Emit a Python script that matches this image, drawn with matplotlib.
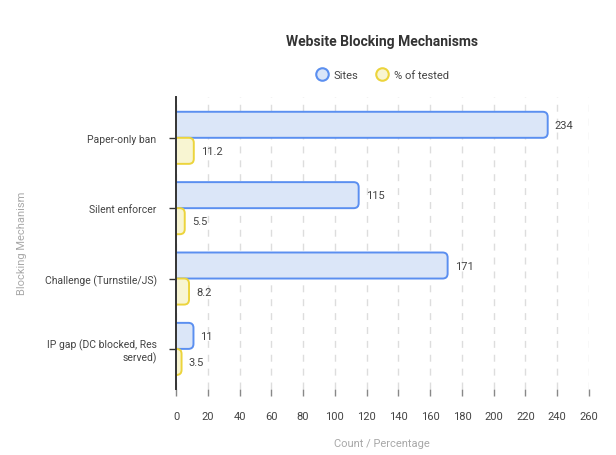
import numpy as np
import matplotlib
matplotlib.use("Agg")
import matplotlib.pyplot as plt
from matplotlib.patches import FancyBboxPatch
from matplotlib.lines import Line2D

plt.rcParams['font.family'] = ['Roboto', 'DejaVu Sans']

# data
mechanisms = ["Paper-only ban", "Silent enforcer", "Challenge (Turnstile/JS)",
              "IP gap (DC blocked, Res\nserved)"]
sites = [234, 115, 171, 11]
pct_tested = [11.2, 5.5, 8.2, 3.5]
series_names = ["Sites", "% of tested"]
xticks = list(range(0, 261, 20))

blue_edge = "#5b8ff0"
blue_fill = "#dbe6f8"
yel_edge = "#ecd43c"
yel_fill = "#f8f5d2"
txt = "#444444"
light = "#a8a8a8"

fig = plt.figure(figsize=(6.16, 4.56), dpi=100)
ax = fig.add_axes([176/616, 1 - 390/456, (589 - 176)/616, (390 - 98)/456])

y = np.arange(len(mechanisms))
h = 0.37
ax.set_xlim(0, 260)
ax.set_ylim(3.57, -0.58)

# rounding of the bar ends, in x data units; mutation_aspect keeps it round on screen
px_x = (589 - 176) / 260.0
px_y = (390 - 98) / (3.57 + 0.58)
r = 5.0 / px_x
aspect = px_x / px_y

def rounded_bars(vals, offset, fc, ec):
    bars = ax.barh(y + offset, vals, height=h, align='edge', alpha=0)
    for b, v in zip(bars, vals):
        x0, y0 = b.get_x(), b.get_y()
        p = FancyBboxPatch((x0 - r * 2, y0), b.get_width() + r * 2, b.get_height(),
                           boxstyle="round,pad=0,rounding_size=%f" % r,
                           mutation_aspect=aspect, fc=fc, ec=ec, lw=1.4, zorder=3)
        ax.add_patch(p)
        ax.text(v + 7 / px_x, y0 + b.get_height() / 2, str(v), va='center', ha='left',
                fontsize=8, color=txt)

rounded_bars(sites, -h, blue_fill, blue_edge)
rounded_bars(pct_tested, 0, yel_fill, yel_edge)

ax.set_xticks(xticks)
ax.set_yticks(y)
ax.set_yticklabels(mechanisms, ha='right', multialignment='right')
ax.tick_params(axis='x', length=5, width=1, color="#888888", labelsize=8,
               labelcolor=txt, pad=11)
ax.tick_params(axis='y', length=5, width=1, color="#333333", labelsize=7.5,
               labelcolor=txt, pad=9)
ax.grid(axis='x', color="#dddddd", linestyle=(0, (5, 5)), linewidth=1)
ax.set_axisbelow(True)
for s in ["top", "right", "bottom"]:
    ax.spines[s].set_visible(False)
ax.spines["left"].set_color("#333333")
ax.spines["left"].set_linewidth(1.4)
ax.spines["left"].set_zorder(5)

fig.text(382/616, 1 - 444/456, "Count / Percentage", ha='center', va='center',
         color=light, fontsize=8)
fig.text(22/616, 1 - 243/456, "Blocking Mechanism", ha='center', va='center',
         rotation=90, color=light, fontsize=8)

fig.text(382/616, 1 - 42/456, "Website Blocking Mechanisms", ha='center', va='center',
         fontsize=10, fontweight='bold', color="#333333")

handles = [Line2D([], [], marker='o', ls='', ms=9, mfc=blue_fill, mec=blue_edge, mew=1.5),
           Line2D([], [], marker='o', ls='', ms=9, mfc=yel_fill, mec=yel_edge, mew=1.5)]
fig.legend(handles, series_names, loc='center', bbox_to_anchor=(382/616, 1 - 76/456),
           ncol=2, frameon=False, fontsize=8, labelcolor=txt, handletextpad=0.5,
           columnspacing=1.5, handlelength=1.2)

fig.savefig("out.png", dpi=100)
